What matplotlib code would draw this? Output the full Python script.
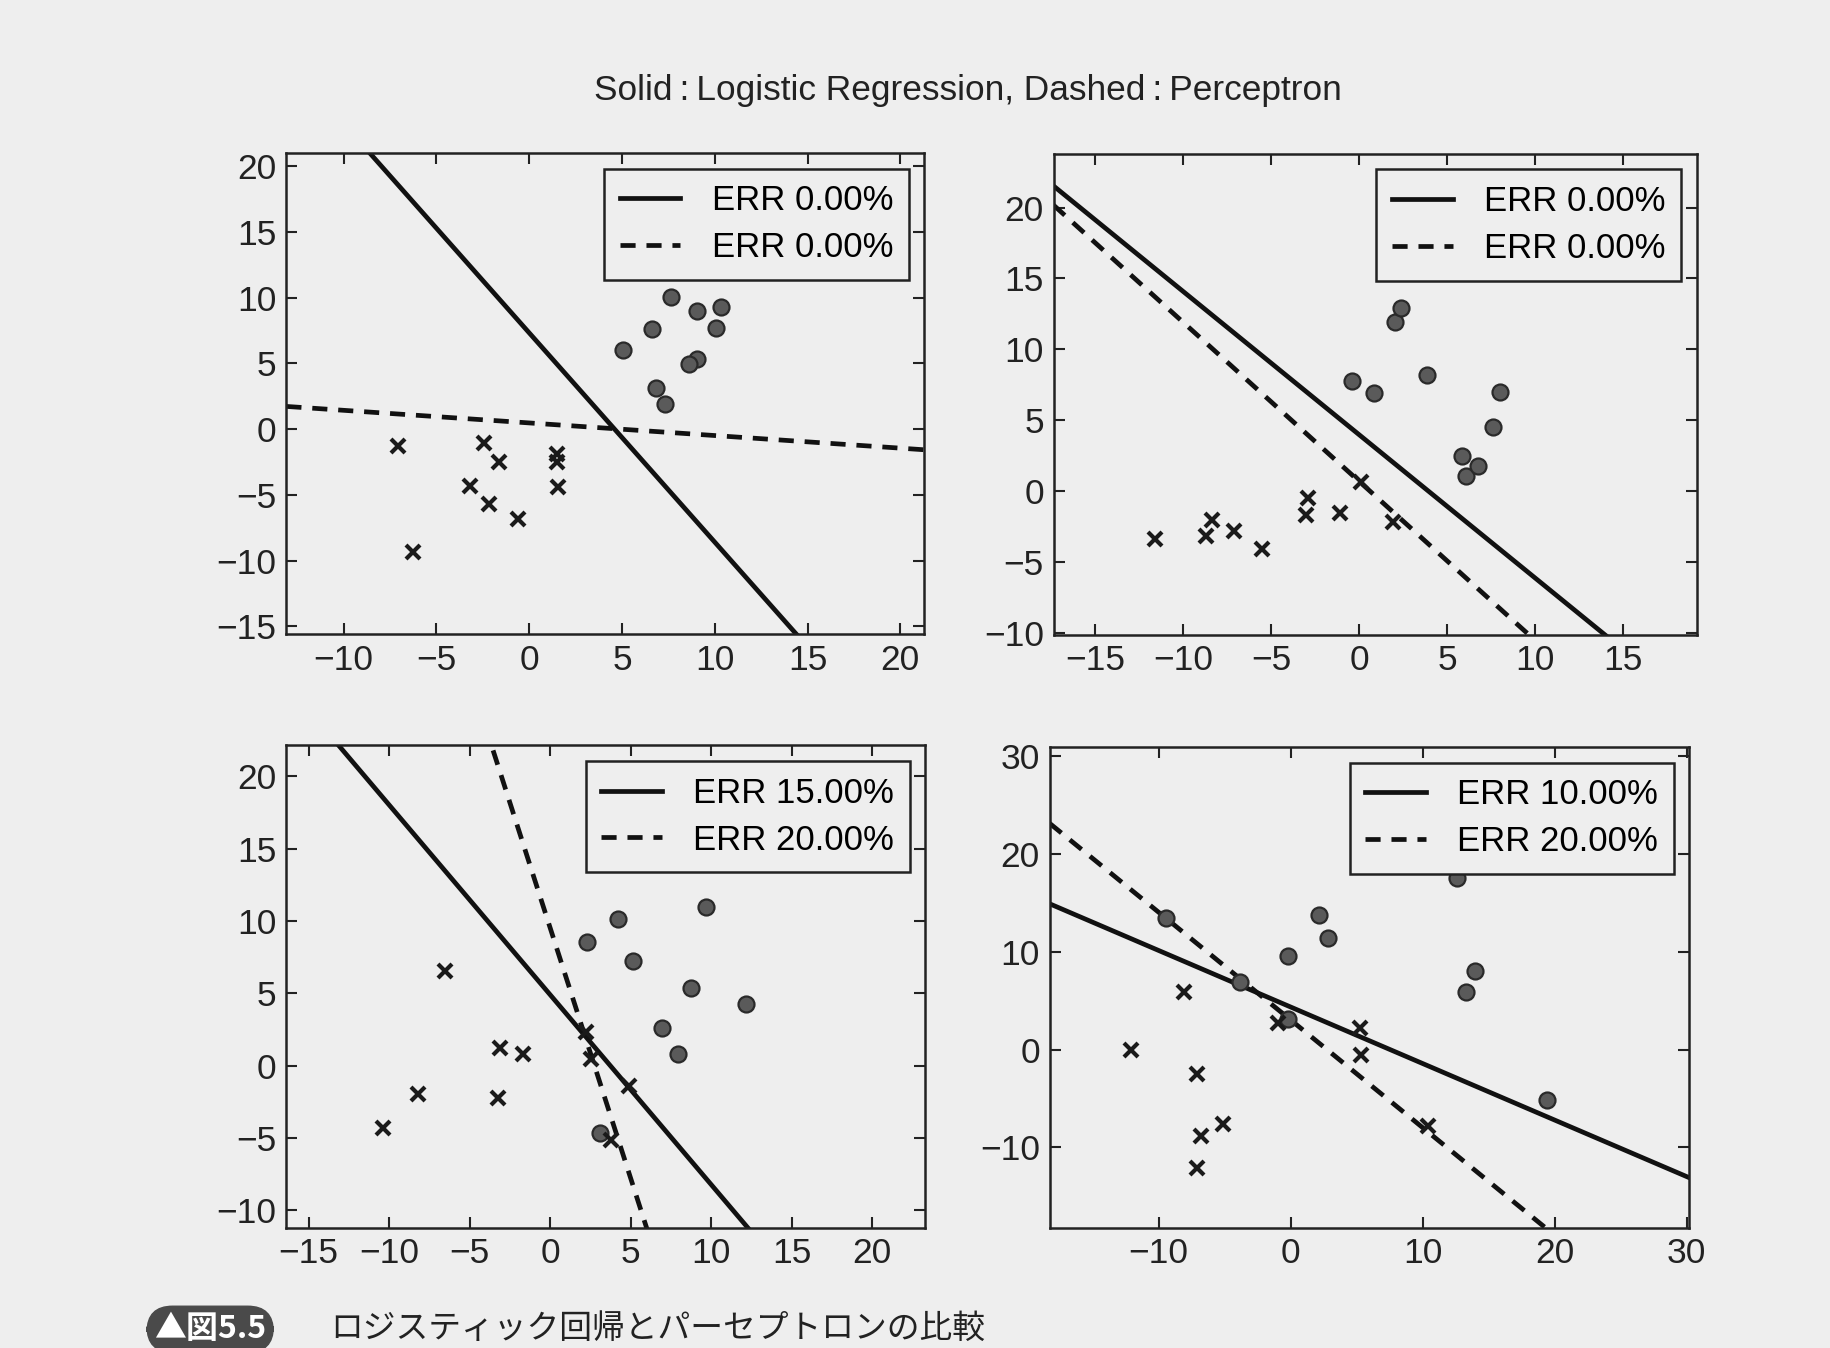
import numpy as np
import matplotlib
matplotlib.use("Agg")
import matplotlib.pyplot as plt

plt.rcParams['font.family'] = ['Liberation Sans', 'DejaVu Sans']

bg = '#eeeeee'

# ---- panel 1 ----
p1_circ_x = [7.63, 9.06, 10.33, 6.62, 10.08, 5.04, 9.06, 8.60, 6.82, 7.33]
p1_circ_y = [10.03, 8.98, 9.32, 7.64, 7.70, 6.02, 5.37, 4.97, 3.14, 1.91]
p1_cross_x = [-7.05, -2.42, -1.63, 1.48, 1.48, 1.53, -3.16, -2.16, -0.61, -6.28]
p1_cross_y = [-1.31, -1.05, -2.49, -1.9, -2.5, -4.37, -4.32, -5.68, -6.81, -9.35]
p1_lines = [(-1.593, 7.33), (-0.096, 0.47)]   # (slope, intercept): logistic, perceptron
p1_err = ['ERR 0.00%', 'ERR 0.00%']

# ---- panel 2 ----
p2_circ_x = [2.07, 2.40, -0.41, 0.88, 3.86, 7.99, 7.63, 5.84, 6.06, 6.75]
p2_circ_y = [11.92, 12.9, 7.79, 6.93, 8.20, 6.98, 4.50, 2.48, 1.09, 1.75]
p2_cross_x = [-11.6, -8.71, -8.35, -7.11, -5.54, -2.89, -3.03, -1.10, 0.14, 1.93]
p2_cross_y = [-3.41, -3.16, -2.07, -2.80, -4.09, -0.49, -1.70, -1.58, 0.61, -2.19]
p2_lines = [(-1.011, 3.98), (-1.1225, 0.69)]
p2_err = ['ERR 0.00%', 'ERR 0.00%']

# ---- panel 3 ----
p3_circ_x = [9.68, 4.22, 2.29, 5.16, 8.74, 12.17, 6.92, 7.95, 3.11]
p3_circ_y = [10.95, 10.17, 8.52, 7.21, 5.36, 4.24, 2.62, 0.83, -4.64]
p3_cross_x = [-6.51, -3.14, -1.67, -8.21, -3.23, -10.38, 2.52, 4.87, 3.75, 2.2]
p3_cross_y = [6.55, 1.26, 0.83, -1.95, -2.26, -4.29, 0.48, -1.43, -5.12, 2.3]
p3_lines = [(-1.312, 4.9), (-3.461, 9.51)]
p3_err = ['ERR 15.00%', 'ERR 20.00%']

# ---- panel 4 ----
p4_circ_x = [-9.43, 2.13, 2.86, -0.18, -0.18, 13.25, 13.98, 19.38, 12.59, -3.8]
p4_circ_y = [13.49, 13.73, 11.37, 9.61, 3.10, 5.92, 8.03, -5.11, 17.54, 6.9]
p4_cross_x = [-8.07, -12.11, -7.12, -6.79, -5.10, -7.05, -0.99, 5.25, 5.36, 10.39]
p4_cross_y = [5.92, 0.0, -2.54, -8.80, -7.64, -12.11, 2.75, 2.22, -0.53, -7.82]
p4_lines = [(-0.578, 4.35), (-1.101, 3.03)]
p4_err = ['ERR 10.00%', 'ERR 20.00%']

panels = [
    dict(rect=[0.1564, 0.5296, 0.3485, 0.3568], xlim=(-13.08, 21.3), ylim=(-15.6, 21.0),
         xt=np.arange(-10, 21, 5), yt=np.arange(-15, 21, 5),
         cx=p1_circ_x, cy=p1_circ_y, xx=p1_cross_x, xy=p1_cross_y, lines=p1_lines, err=p1_err),
    dict(rect=[0.5754, 0.5291, 0.3513, 0.3568], xlim=(-17.36, 19.2), ylim=(-10.15, 23.8),
         xt=np.arange(-15, 16, 5), yt=np.arange(-10, 21, 5),
         cx=p2_circ_x, cy=p2_circ_y, xx=p2_cross_x, xy=p2_cross_y, lines=p2_lines, err=p2_err),
    dict(rect=[0.1564, 0.0893, 0.3490, 0.3577], xlim=(-16.39, 23.3), ylim=(-11.19, 22.14),
         xt=np.arange(-15, 21, 5), yt=np.arange(-10, 21, 5),
         cx=p3_circ_x, cy=p3_circ_y, xx=p3_cross_x, xy=p3_cross_y, lines=p3_lines, err=p3_err),
    dict(rect=[0.5733, 0.0893, 0.3494, 0.3564], xlim=(-18.24, 30.2), ylim=(-18.2, 30.9),
         xt=np.arange(-10, 31, 10), yt=np.arange(-10, 31, 10),
         cx=p4_circ_x, cy=p4_circ_y, xx=p4_cross_x, xy=p4_cross_y, lines=p4_lines, err=p4_err),
]

fig = plt.figure(figsize=(18.31, 13.48), dpi=100, facecolor=bg)

for p in panels:
    ax = fig.add_axes(p['rect'], facecolor=bg)
    xs = np.array(p['xlim'])
    (s1, b1), (s2, b2) = p['lines']
    ax.plot(xs, s1 * xs + b1, '-', color='#111111', lw=3.4, label=p['err'][0])
    ax.plot(xs, s2 * xs + b2, '--', color='#111111', lw=3.4, dashes=(3.2, 2.3), label=p['err'][1])
    ax.plot(p['cx'], p['cy'], 'o', ms=11.5, mfc='#5a5a5a', mec='#2a2a2a', mew=1.6)
    ax.plot(p['xx'], p['xy'], 'x', ms=10.5, color='#1a1a1a', mew=3)
    ax.set_xlim(p['xlim'])
    ax.set_ylim(p['ylim'])
    ax.set_xticks(p['xt'])
    ax.set_yticks(p['yt'])
    ax.tick_params(direction='in', length=8, width=1.5, top=True, right=True,
                   labelsize=25.5, colors='#222222', pad=7)
    for sp in ax.spines.values():
        sp.set_linewidth(1.8)
        sp.set_color('#222222')
    leg = ax.legend(loc='upper right', fontsize=25, handlelength=1.75, fancybox=False,
                    framealpha=1, facecolor=bg, edgecolor='#222222', borderpad=0.45,
                    handletextpad=0.9, labelspacing=0.4, borderaxespad=0.45)
    leg.get_frame().set_linewidth(1.8)

fig.text(0.5287, 0.933, 'Solid\u2009:\u2009Logistic Regression, Dashed\u2009:\u2009Perceptron',
         ha='center', va='center', fontsize=25.4, color='#222222')

fig.text(0.1148, 0.0139, '▲図5.5', ha='center', va='center', fontsize=23, color='white',
         fontweight='bold', family=['Noto Sans CJK JP', 'DejaVu Sans'],
         bbox=dict(boxstyle='round,pad=0.22,rounding_size=0.8', fc='#4a4a4a', ec='#4a4a4a'))
fig.text(0.1805, 0.0139, 'ロジスティック回帰とパーセプトロンの比較', ha='left', va='center',
         fontsize=23.6, color='#222222', family=['Noto Sans CJK JP', 'DejaVu Sans'])

fig.savefig('out.png', dpi=100, facecolor=bg)
